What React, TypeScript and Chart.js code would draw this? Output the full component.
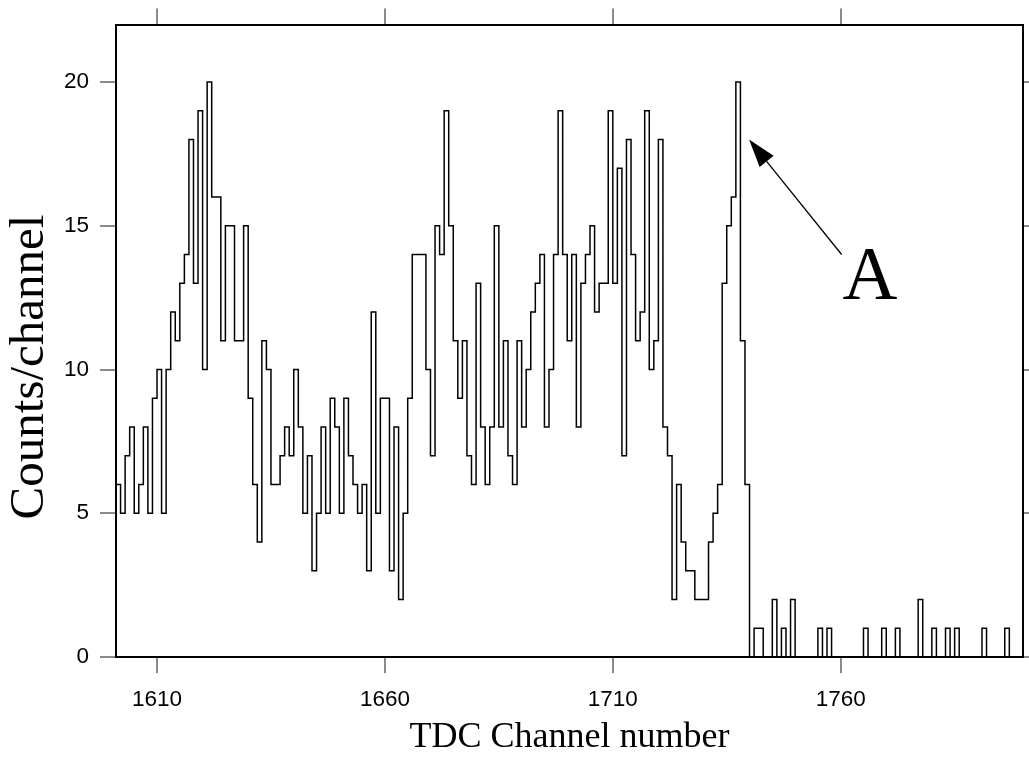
import React, { useEffect, useRef } from 'react';
import { Chart, registerables } from 'chart.js';

Chart.register(...registerables);

// ---- data -------------------------------------------------------------
const firstChannel = 1601;
const axisMinChannel = 1601;
const axisMaxChannel = 1800;

const counts1601to1650 = [
  6, 5, 7, 8, 5, 6, 8, 5, 9, 10,
  5, 10, 12, 11, 13, 14, 18, 13, 19, 10,
  20, 16, 16, 11, 15, 15, 11, 11, 15, 9,
  6, 4, 11, 10, 6, 6, 7, 8, 7, 10,
  8, 5, 7, 3, 5, 8, 5, 9, 8, 5,
];
const counts1651to1700 = [
  9, 7, 6, 5, 6, 3, 12, 5, 9, 9,
  3, 8, 2, 5, 9, 14, 14, 14, 10, 7,
  15, 14, 19, 15, 11, 9, 11, 7, 6, 13,
  8, 6, 8, 15, 8, 11, 7, 6, 11, 8,
  10, 12, 13, 14, 8, 10, 14, 19, 14, 11,
];
const counts1701to1750 = [
  14, 8, 13, 14, 15, 12, 13, 13, 19, 13,
  17, 7, 18, 14, 11, 12, 19, 10, 11, 18,
  8, 7, 2, 6, 4, 3, 3, 2, 2, 2,
  4, 5, 6, 13, 15, 16, 20, 11, 6, 0,
  1, 1, 0, 0, 2, 0, 1, 0, 2, 0,
];
const counts1751to1799 = [
  0, 0, 0, 0, 1, 0, 1, 0, 0, 0,
  0, 0, 0, 0, 1, 0, 0, 0, 1, 0,
  0, 1, 0, 0, 0, 0, 2, 0, 0, 1,
  0, 0, 1, 0, 1, 0, 0, 0, 0, 0,
  1, 0, 0, 0, 0, 1, 0, 0, 0,
];

const xTickValues = [1610, 1660, 1710, 1760];
const yTickValues = [0, 5, 10, 15, 20];
const yMax = 22;

const xTitle = 'TDC Channel number';
const yTitle = 'Counts/channel';
const annotationLabel = 'A';
const arrowTip = { x: 1739.9, y: 18.0 };
const arrowTail = { x: 1760.2, y: 14.0 };
const labelAnchor = { x: 1766.4, y: 12.45 };

// ---- helpers -------------------------------------------------------------
const allCounts = [
  ...counts1601to1650,
  ...counts1651to1700,
  ...counts1701to1750,
  ...counts1751to1799,
];

const stepPoints = allCounts.map((v, i) => ({ x: firstChannel + i, y: v }));
stepPoints.push({ x: firstChannel + allCounts.length, y: allCounts[allCounts.length - 1] });

const SANS = "'Liberation Sans', Arial, sans-serif";
const SERIF = "'Liberation Serif', 'Times New Roman', serif";

const annotationPlugin = {
  id: 'annotationA',
  afterDraw(chart: any) {
    const { ctx } = chart;
    const xs = chart.scales.x;
    const ys = chart.scales.y;
    const tx = xs.getPixelForValue(arrowTip.x);
    const ty = ys.getPixelForValue(arrowTip.y);
    const sx = xs.getPixelForValue(arrowTail.x);
    const sy = ys.getPixelForValue(arrowTail.y);
    const ang = Math.atan2(ty - sy, tx - sx);
    const headLen = 28;
    const headHalf = 9;
    ctx.save();
    ctx.strokeStyle = '#000';
    ctx.fillStyle = '#000';
    ctx.lineWidth = 1.3;
    const bx = tx - headLen * Math.cos(ang);
    const by = ty - headLen * Math.sin(ang);
    ctx.beginPath();
    ctx.moveTo(sx, sy);
    ctx.lineTo(bx, by);
    ctx.stroke();
    ctx.beginPath();
    ctx.moveTo(tx, ty);
    ctx.lineTo(bx + headHalf * Math.sin(ang), by - headHalf * Math.cos(ang));
    ctx.lineTo(bx - headHalf * Math.sin(ang), by + headHalf * Math.cos(ang));
    ctx.closePath();
    ctx.fill();

    ctx.font = `76px ${SERIF}`;
    ctx.textAlign = 'center';
    ctx.textBaseline = 'alphabetic';
    ctx.fillText(annotationLabel, xs.getPixelForValue(labelAnchor.x), ys.getPixelForValue(labelAnchor.y));

    // y-axis title
    ctx.save();
    ctx.translate(30, 367);
    ctx.rotate(-Math.PI / 2);
    ctx.font = `49px ${SERIF}`;
    ctx.textAlign = 'center';
    ctx.textBaseline = 'middle';
    ctx.fillText(yTitle, 0, 0);
    ctx.restore();
    ctx.restore();
  },
};

export default function App() {
  const canvasRef = useRef<HTMLCanvasElement | null>(null);

  useEffect(() => {
    document.body.style.margin = '0';
    const canvas = canvasRef.current;
    if (!canvas) return;

    const gridCommon = {
      drawOnChartArea: false,
      drawTicks: true,
      tickLength: 16,
      color: '#8a8a8a',
      lineWidth: 2,
    };
    const borderCommon = { display: true, color: '#000', width: 2 };

    const chart = new Chart(canvas, {
      type: 'line',
      data: {
        datasets: [
          {
            data: stepPoints,
            stepped: true,
            borderColor: '#000',
            borderWidth: 1.5,
            pointRadius: 0,
            fill: false,
            tension: 0,
          },
        ],
      },
      options: {
        responsive: false,
        animation: false,
        devicePixelRatio: 1,
        layout: { padding: 0 },
        plugins: {
          legend: { display: false },
          tooltip: { enabled: false },
        },
        scales: {
          x: {
            type: 'linear',
            position: 'bottom',
            min: axisMinChannel,
            max: axisMaxChannel,
            afterBuildTicks: (s: any) => {
              s.ticks = xTickValues.map((v) => ({ value: v }));
            },
            afterFit: (s: any) => {
              s.height = 106;
            },
            grid: gridCommon,
            border: borderCommon,
            ticks: {
              color: '#000',
              font: { family: SANS, size: 22.5 },
              padding: 13,
              maxRotation: 0,
              autoSkip: false,
              callback: (v: any) => String(v),
            },
            title: {
              display: true,
              text: xTitle,
              color: '#000',
              font: { family: SERIF, size: 36 },
              padding: { top: 0, bottom: 4 },
            },
          },
          x2: {
            type: 'linear',
            position: 'top',
            min: axisMinChannel,
            max: axisMaxChannel,
            afterBuildTicks: (s: any) => {
              s.ticks = xTickValues.map((v) => ({ value: v }));
            },
            afterFit: (s: any) => {
              s.height = 22;
            },
            grid: gridCommon,
            border: borderCommon,
            ticks: { display: false },
          },
          y: {
            type: 'linear',
            position: 'left',
            min: 0,
            max: yMax,
            afterBuildTicks: (s: any) => {
              s.ticks = yTickValues.map((v) => ({ value: v }));
            },
            afterFit: (s: any) => {
              s.width = 116;
            },
            grid: gridCommon,
            border: borderCommon,
            ticks: {
              color: '#000',
              font: { family: SANS, size: 22.5 },
              padding: 11,
              callback: (v: any) => String(v),
            },
          },
          y2: {
            type: 'linear',
            position: 'right',
            min: 0,
            max: yMax,
            afterBuildTicks: (s: any) => {
              s.ticks = yTickValues.map((v) => ({ value: v }));
            },
            afterFit: (s: any) => {
              s.width = 6;
            },
            grid: gridCommon,
            border: borderCommon,
            ticks: { display: false },
          },
        },
      } as any,
      plugins: [annotationPlugin],
    });

    return () => {
      chart.destroy();
    };
  }, []);

  return (
    <div style={{ width: 1029, height: 763 }}>
      <canvas ref={canvasRef} width={1029} height={763} style={{ display: 'block' }} />
    </div>
  );
}
